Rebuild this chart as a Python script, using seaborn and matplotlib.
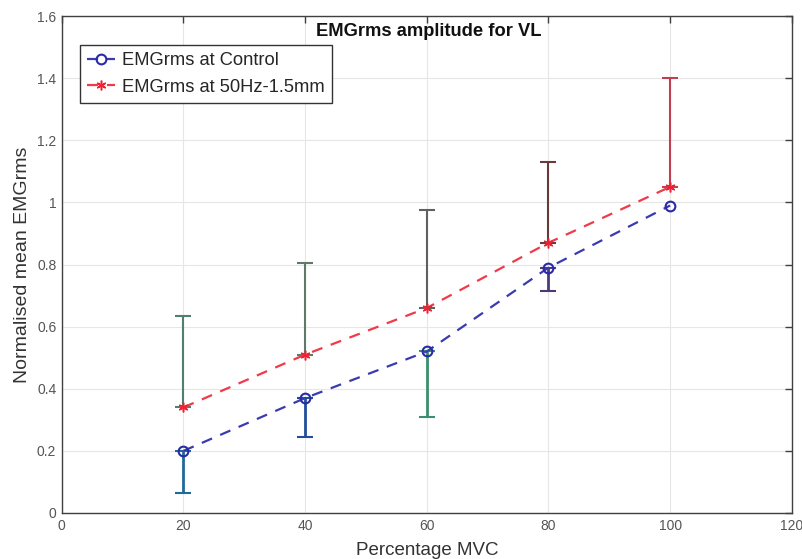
import matplotlib
matplotlib.use("Agg")
import matplotlib.pyplot as plt
import seaborn as sns
import pandas as pd
import numpy as np

# Data
mvc = [20, 40, 60, 80, 100]
control_mean = [0.20, 0.37, 0.52, 0.79, 0.99]
control_lower = [0.065, 0.245, 0.31, 0.715, 0.99]
hz50_mean = [0.34, 0.51, 0.66, 0.87, 1.05]
hz50_upper = [0.635, 0.805, 0.975, 1.13, 1.40]
control_err_colors = ["#1f6a9a", "#1f4f9a", "#3a8f6e", "#4a3a7a", "#4a3a7a"]
hz50_err_colors = ["#4f7f70", "#5f7a6a", "#606060", "#6a3a3a", "#c04050"]

sns.set_theme(style="whitegrid")
plt.rcParams['font.family'] = ['Liberation Sans', 'DejaVu Sans']

fig = plt.figure(figsize=(8.03, 5.59), dpi=100)
ax = fig.add_axes([0.077, 0.0823, 0.909, 0.889])

df_c = pd.DataFrame({"x": mvc, "y": control_mean})
df_h = pd.DataFrame({"x": mvc, "y": hz50_mean})

# error bars
for x, m, lo, c in zip(mvc, control_mean, control_lower, control_err_colors):
    if m - lo > 0.001:
        ax.errorbar([x], [m], yerr=[[m - lo], [0]], fmt='none', ecolor=c,
                    elinewidth=2.0, capsize=6, capthick=1.5, zorder=2)
for x, m, up, c in zip(mvc, hz50_mean, hz50_upper, hz50_err_colors):
    ax.errorbar([x], [m], yerr=[[0], [up - m]], fmt='none', ecolor=c,
                elinewidth=1.5, capsize=6, capthick=1.5, zorder=2)

sns.lineplot(data=df_c, x="x", y="y", ax=ax, color="#3b3bb0", linestyle=(0, (5, 4)),
             linewidth=1.6, marker='o', markersize=7, markerfacecolor='none',
             markeredgecolor="#2a2aa8", markeredgewidth=1.5, label="EMGrms at Control", zorder=3)
sns.lineplot(data=df_h, x="x", y="y", ax=ax, color="#f03a4a", linestyle=(0, (5, 4)),
             linewidth=1.6, marker=(6, 2, 0), markersize=7,
             markeredgecolor="#ee2233", markeredgewidth=1.1, label="EMGrms at 50Hz-1.5mm", zorder=3)

ax.set_xlim(0, 120)
ax.set_ylim(0, 1.6)
ax.set_xticks([0, 20, 40, 60, 80, 100, 120])
ax.set_yticks(np.arange(0, 1.61, 0.2))
ax.set_yticklabels(["0", "0.2", "0.4", "0.6", "0.8", "1", "1.2", "1.4", "1.6"])
ax.set_facecolor("white")
ax.grid(True, color="#e6e6e6", linewidth=0.8)
for s in ax.spines.values():
    s.set_color("#404040")
    s.set_linewidth(1.0)
ax.tick_params(direction='in', length=5, width=1, color="#404040", top=True, right=True,
               labelsize=10, labelcolor="#555555", pad=4)

ax.set_xlabel("Percentage MVC", fontsize=13.5, color="#333333", labelpad=7)
ax.set_ylabel("Normalised mean EMGrms", fontsize=14, color="#333333", labelpad=4)
ax.text(0.503, 0.986, "EMGrms amplitude for VL", transform=ax.transAxes, ha='center', va='top',
        fontsize=13.2, fontweight='bold', color="#111111")

leg = ax.legend(loc='upper left', bbox_to_anchor=(0.0247, 0.9417), borderaxespad=0,
                fontsize=13.2, frameon=True,
                fancybox=False, edgecolor="#333333", framealpha=1, borderpad=0.4,
                handlelength=1.5, handletextpad=0.4, labelspacing=0.5)
leg.get_frame().set_linewidth(1.0)

fig.savefig("out.png", dpi=100, facecolor="white")
